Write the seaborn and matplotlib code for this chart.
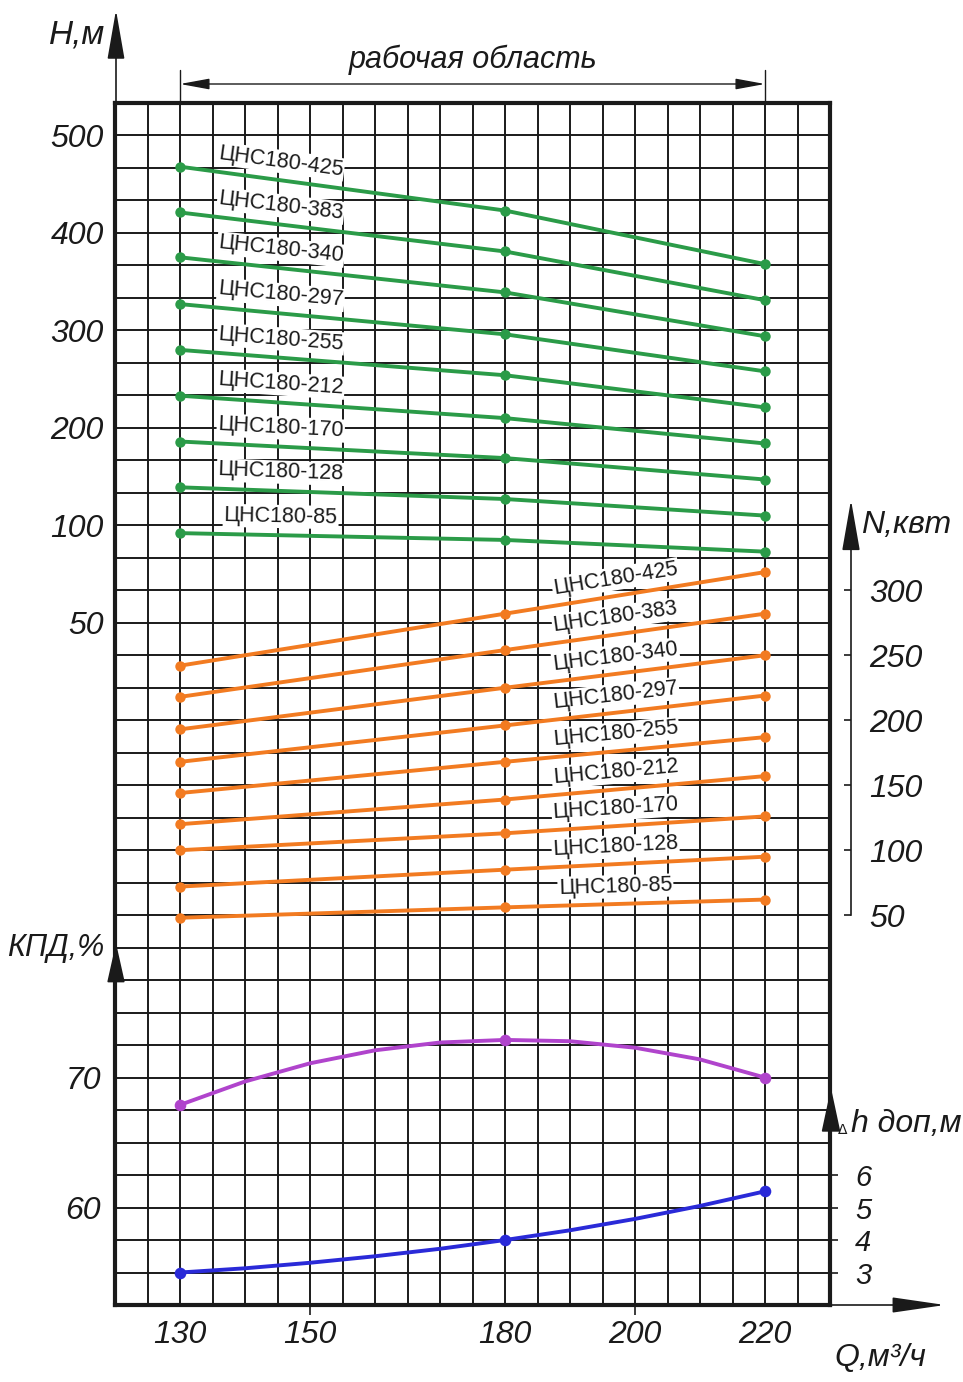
import numpy as np
import pandas as pd
import matplotlib
matplotlib.use("Agg")
import matplotlib.pyplot as plt
from matplotlib.transforms import offset_copy
import seaborn as sns

# --- data ---
MODELS = ["ЦНС180-425", "ЦНС180-383", "ЦНС180-340", "ЦНС180-297", "ЦНС180-255",
          "ЦНС180-212", "ЦНС180-170", "ЦНС180-128", "ЦНС180-85"]
Q_PTS = [130, 180, 220]

# head H, m at Q = 130 / 180 / 220
H_130 = [468, 421, 375, 327, 280, 233, 186, 139, 92]
H_180 = [423, 381, 339, 296, 254, 210, 169, 127, 85]
H_220 = [368, 331, 294, 258, 221, 184, 147, 110, 73]

# power N, kW at Q = 130 / 180 / 220
N_130 = [242, 218, 193, 168, 144, 120, 100, 72, 48]
N_180 = [282, 254, 225, 196, 168, 139, 113, 85, 56]
N_220 = [314, 282, 250, 219, 187, 157, 126, 95, 62]

# efficiency curve, %
Q_EFF = [130, 140, 150, 160, 170, 180, 190, 200, 210, 220]
EFF = [67.9, 69.7, 71.1, 72.1, 72.7, 72.9, 72.8, 72.3, 71.4, 70.0]

# NPSH curve, m
Q_NPSH = [130, 140, 150, 160, 170, 180, 190, 200, 210, 220]
NPSH = [3.0, 3.13, 3.3, 3.5, 3.73, 4.0, 4.3, 4.65, 5.05, 5.5]

X_TICKS = [130, 150, 180, 200, 220]
H_TICKS = [0, 100, 200, 300, 400, 500]
H_LABELS = ["50", "100", "200", "300", "400", "500"]
N_TICKS = [50, 100, 150, 200, 250, 300]
EFF_TICKS = [60, 70]
NPSH_TICKS = [3, 4, 5, 6]

GREEN = "#2b9b48"
ORANGE = "#f27b21"
PURPLE = "#b044cc"
BLUE = "#2a2ad8"
INK = "#1a1a1a"

sns.set_theme(style="white")
plt.rcParams["font.family"] = ["Liberation Sans", "DejaVu Sans"]
plt.rcParams["text.color"] = INK
plt.rcParams["xtick.color"] = INK
plt.rcParams["ytick.color"] = INK

W, H = 963, 1382


def rect(x0, y0, x1, y1):
    return [x0 / W, 1 - y1 / H, (x1 - x0) / W, (y1 - y0) / H]


FRAME = rect(115, 103, 830, 1305)
ROWS = 37
QLIM = (120, 230)

fig = plt.figure(figsize=(W / 100, H / 100), dpi=100)

# --- grid / frame axes (rows as y units) ---
ax = fig.add_axes(FRAME)
ax.set_xlim(*QLIM)
ax.set_ylim(0, ROWS)
ax.xaxis.remove_overlapping_locs = False
ax.set_xticks(np.arange(120, 231, 5), minor=True)
ax.set_yticks(np.arange(0, ROWS + 1), minor=True)
ax.set_yticks([])
ax.set_xticks(X_TICKS)
ax.set_xticklabels([str(v) for v in X_TICKS], fontsize=23, style="italic")
ax.tick_params(axis="x", which="major", length=0, pad=11)
ax.tick_params(which="minor", length=0)
ax.grid(which="minor", color=INK, lw=1.4)
for s in ax.spines.values():
    s.set_linewidth(3)
    s.set_color(INK)
sec = ax.secondary_xaxis("bottom")
sec.set_xticks([150, 200])
sec.tick_params(length=7, width=1.2, labelbottom=False, color=INK)
sec.spines["bottom"].set_visible(False)

# working range mark above the frame
for q in (Q_PTS[0], Q_PTS[-1]):
    ax.axvline(q, ymin=1, ymax=1 + 33 / 1202, color=INK, lw=1, clip_on=False)
ax.annotate("", xy=(Q_PTS[-1], 1 + 19 / 1202), xytext=(Q_PTS[0], 1 + 19 / 1202),
            xycoords=("data", "axes fraction"),
            arrowprops=dict(arrowstyle="<|-|>,head_length=18,head_width=3.3",
                            mutation_scale=1, color=INK, lw=1, shrinkA=0, shrinkB=0))


def overlay(ylim):
    a = fig.add_axes(FRAME)
    a.patch.set_visible(False)
    a.set_xlim(*QLIM)
    a.set_ylim(*ylim)
    a.set_xticks([])
    for s in a.spines.values():
        s.set_visible(False)
    return a


# row -> value mappings taken from the reference scales
H_LIM = (-700, 1600 / 3)
N_LIM = (-250, 675)
E_LIM = (52.5, 145)
D_LIM = (2, 39)
ax_h = overlay(H_LIM)
ax_n = overlay(N_LIM)
ax_e = overlay(E_LIM)
ax_d = overlay(D_LIM)

ax_h.set_yticks(H_TICKS)
ax_h.set_yticklabels(H_LABELS, fontsize=23, style="italic")
ax_h.tick_params(axis="y", direction="out", length=7, width=1.2, pad=1)

ax_e.set_yticks(EFF_TICKS)
ax_e.set_yticklabels([str(v) for v in EFF_TICKS], fontsize=23, style="italic")
ax_e.tick_params(axis="y", direction="out", length=7, width=1.2, pad=3)

ax_d.yaxis.tick_right()
ax_d.set_yticks(NPSH_TICKS)
ax_d.set_yticklabels([str(v) for v in NPSH_TICKS], fontsize=21, style="italic")
ax_d.tick_params(axis="y", direction="out", length=6, width=1.2, pad=12)

ax_n.yaxis.tick_right()
ax_n.spines["right"].set_visible(True)
ax_n.spines["right"].set_position(("axes", 736 / 715))
ax_n.spines["right"].set_bounds(50, 340)
ax_n.spines["right"].set_linewidth(1.2)
ax_n.spines["right"].set_color(INK)
ax_n.set_yticks(N_TICKS)
ax_n.set_yticklabels([str(v) for v in N_TICKS], fontsize=23, style="italic")
ax_n.tick_params(axis="y", direction="in", length=5, width=1.2, pad=13)


def long_frame(v130, v180, v220, col):
    vals = np.column_stack([v130, v180, v220]).ravel()
    return pd.DataFrame({"Q": np.tile(Q_PTS, len(MODELS)), col: vals,
                         "model": np.repeat(MODELS, len(Q_PTS))})


head_df = long_frame(H_130, H_180, H_220, "H")
power_df = long_frame(N_130, N_180, N_220, "N")

line_kw = dict(marker="o", markersize=7.5, markeredgewidth=0, lw=2.8,
               legend=False, estimator=None, sort=False, zorder=5)
sns.lineplot(data=head_df, x="Q", y="H", hue="model",
             palette={m: GREEN for m in MODELS}, ax=ax_h, **line_kw)
sns.lineplot(data=power_df, x="Q", y="N", hue="model",
             palette={m: ORANGE for m in MODELS}, ax=ax_n, **line_kw)

sns.lineplot(x=Q_EFF, y=EFF, color=PURPLE, lw=2.8, ax=ax_e, zorder=5)
eff_pts = pd.DataFrame({"Q": Q_EFF, "v": EFF}).query("Q in @Q_PTS")
sns.scatterplot(data=eff_pts, x="Q", y="v", color=PURPLE, s=70, linewidth=0, ax=ax_e, zorder=6)

sns.lineplot(x=Q_NPSH, y=NPSH, color=BLUE, lw=2.8, ax=ax_d, zorder=5)
npsh_pts = pd.DataFrame({"Q": Q_NPSH, "v": NPSH}).query("Q in @Q_PTS")
sns.scatterplot(data=npsh_pts, x="Q", y="v", color=BLUE, s=70, linewidth=0, ax=ax_d, zorder=6)

for a, lim in ((ax_h, H_LIM), (ax_n, N_LIM), (ax_e, E_LIM), (ax_d, D_LIM)):
    a.set_xlim(*QLIM)
    a.set_ylim(*lim)
    a.set(xlabel="", ylabel="")
    a.set_xticks([])


def curve_labels(a, v_a, v_b, q_a, q_b, q_lab, off):
    tr = offset_copy(a.transData, fig=fig, y=off, units="points")
    for i, m in enumerate(MODELS):
        p1 = a.transData.transform((q_a, v_a[i]))
        p2 = a.transData.transform((q_b, v_b[i]))
        ang = np.degrees(np.arctan2(p2[1] - p1[1], p2[0] - p1[0]))
        y = np.interp(q_lab, [q_a, q_b], [v_a[i], v_b[i]])
        a.text(q_lab, y, m, transform=tr, rotation=ang, rotation_mode="anchor",
               ha="center", va="center", fontsize=15.5, zorder=3,
               bbox=dict(facecolor="white", edgecolor="none", pad=0.8))


curve_labels(ax_h, H_130, H_180, 130, 180, 145.5, 13.5)
curve_labels(ax_n, N_180, N_220, 180, 220, 197, 12.5)

# --- decorations in pixel space: axis arrows and titles ---
dec = fig.add_axes([0, 0, 1, 1])
dec.set_xlim(0, W)
dec.set_ylim(H, 0)
dec.axis("off")
dec.patch.set_visible(False)


def arrow(x0, y0, x1, y1, hl, hw, lw=1.2):
    dec.annotate("", xy=(x1, y1), xytext=(x0, y0),
                 arrowprops=dict(arrowstyle=f"-|>,head_length={hl},head_width={hw}",
                                 mutation_scale=1, color=INK, lw=lw,
                                 shrinkA=0, shrinkB=0))


arrow(116, 103, 116, 10, 31, 5.4)       # H
arrow(116, 980, 116, 943, 25, 5.6)      # efficiency
arrow(851, 546, 851, 500, 32, 5.6)      # N
arrow(831, 1128, 831, 1088, 28, 6.0)    # NPSH
arrow(830, 1305, 945, 1305, 33, 4.8)    # Q

tkw = dict(ha="center", va="center", style="italic")
dec.text(77, 35, "Н,м", fontsize=24, **tkw)
dec.text(473, 60, "рабочая область", fontsize=22, **tkw)
dec.text(56, 948, "КПД,%", fontsize=22, **tkw)
dec.text(906, 525, "N,квт", fontsize=23, **tkw)
dec.text(843, 1130, "Δ", fontsize=10, ha="center", va="center", family="DejaVu Sans")
dec.text(851, 1124, "h доп,м", fontsize=23, ha="left", va="center", style="italic")
dec.text(880, 1358, "Q,м³/ч", fontsize=23, **tkw)

fig.savefig("out.png", dpi=100)
plt.close(fig)
